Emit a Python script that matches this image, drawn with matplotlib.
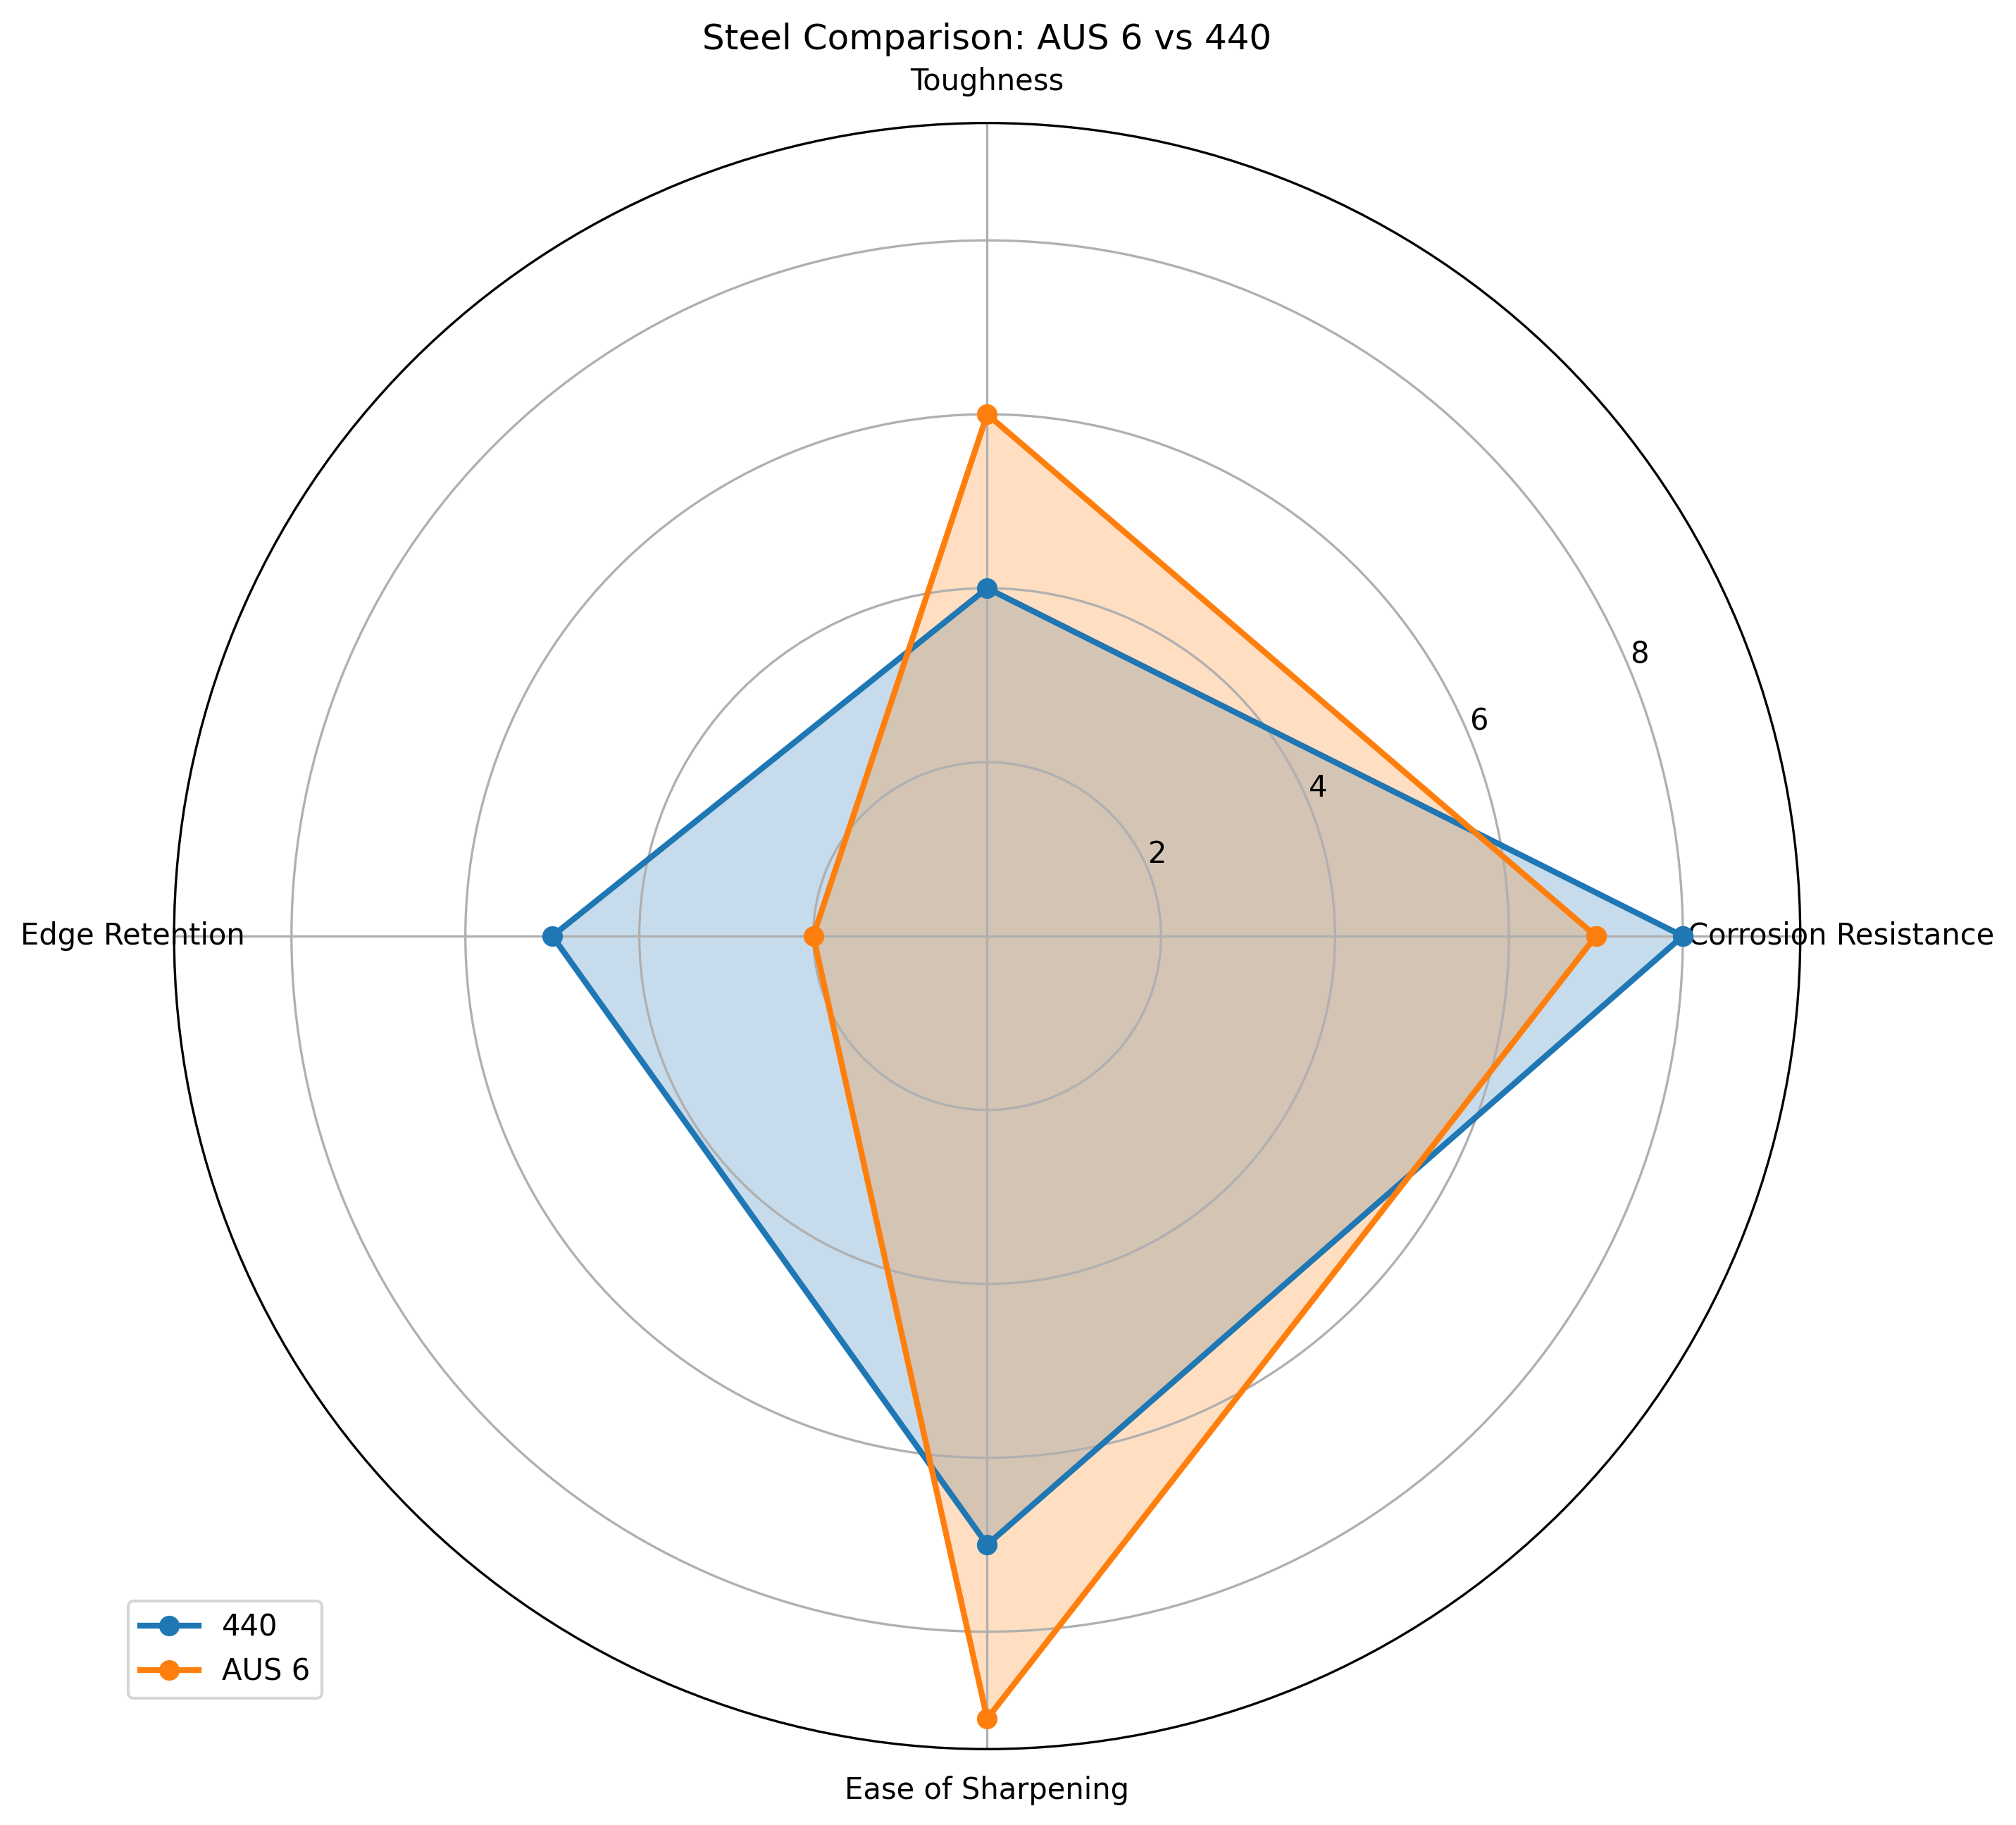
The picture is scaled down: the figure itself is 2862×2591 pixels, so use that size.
import numpy as np
import matplotlib.pyplot as plt

categories = ["Corrosion Resistance", "Toughness", "Edge Retention", "Ease of Sharpening"]
steel_440 = [8, 4, 5, 7]
steel_aus6 = [7, 6, 2, 9]
series_names = ["440", "AUS 6"]

angles = np.linspace(0, 2*np.pi, len(categories), endpoint=False).tolist()
angles_c = angles + angles[:1]

fig = plt.figure(figsize=(9.5433, 8.6367), dpi=300)
ax = fig.add_axes([0.086, 0.0416, 0.807, 0.891], polar=True)
for name, vals in zip(series_names, [steel_440, steel_aus6]):
    v = vals + vals[:1]
    ax.plot(angles_c, v, 'o-', linewidth=2, label=name)
    ax.fill(angles_c, v, alpha=0.25)
ax.set_xticks(angles)
ax.set_xticklabels(categories)
ax.set_title("Steel Comparison: AUS 6 vs 440")
ax.legend(loc='upper right', bbox_to_anchor=(0.1, 0.1))
fig.savefig("out.png")
